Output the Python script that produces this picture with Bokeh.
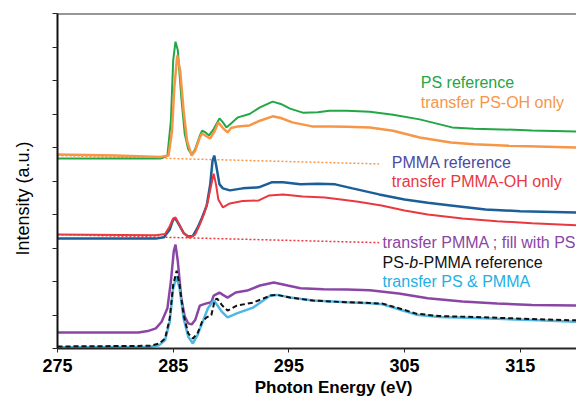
import math
from bokeh.plotting import figure
from bokeh.models import Range1d, FixedTicker, Span, Label
from bokeh.embed import file_html
from bokeh.resources import INLINE

# ---- data (photon energy eV, intensity a.u.) ----
ps_ref_e = [275, 283.9, 284.5, 284.8, 285.0, 285.2, 285.4, 285.7, 286.0, 286.3, 286.6, 286.9, 287.3, 287.5, 287.8, 288.1, 288.5, 289.0, 289.3, 289.6, 290.0, 290.6, 291.6, 292.5, 293.6, 294.3, 295.1, 296.2, 297.5, 298.5, 300, 302, 304, 306.3, 309.1, 311, 313.4, 316, 319.9]
ps_ref_i = [5.67, 5.67, 5.75, 6.8, 8.6, 9.16, 8.9, 7.5, 6.4, 5.95, 5.79, 5.95, 6.35, 6.5, 6.45, 6.36, 6.55, 6.87, 6.75, 6.6, 6.72, 6.9, 7.0, 7.2, 7.37, 7.3, 7.16, 7.04, 7.05, 7.1, 7.1, 7.07, 6.98, 6.84, 6.6, 6.56, 6.54, 6.51, 6.48]

psoh_e = [275, 280, 283.9, 284.6, 284.9, 285.1, 285.35, 285.6, 285.9, 286.2, 286.6, 286.9, 287.3, 287.5, 287.8, 288.2, 288.6, 288.9, 289.3, 289.7, 290.0, 290.6, 291.6, 292.5, 293.6, 294.3, 295.3, 297, 298.5, 300, 302, 304, 306.3, 309, 311, 314, 319.9]
psoh_i = [5.79, 5.76, 5.72, 5.76, 6.5, 7.8, 8.75, 8.3, 7.1, 6.2, 5.76, 5.9, 6.3, 6.42, 6.35, 6.27, 6.5, 6.75, 6.58, 6.45, 6.58, 6.63, 6.66, 6.8, 6.93, 6.88, 6.75, 6.63, 6.63, 6.62, 6.6, 6.5, 6.3, 6.15, 6.1, 6.05, 6.0]
psoh_base_e = [275, 302.8]
psoh_base_i = [5.76, 5.51]

pmma_ref_e = [275, 283.5, 284.2, 284.7, 285.0, 285.2, 285.5, 285.9, 286.3, 286.7, 287.1, 287.5, 287.9, 288.2, 288.4, 288.55, 288.75, 289.0, 289.3, 289.9, 291.0, 292.4, 293.5, 294.5, 296, 297.5, 299, 300.5, 302.8, 305, 307, 309, 312, 315, 319.9]
pmma_ref_i = [3.28, 3.28, 3.32, 3.55, 3.85, 3.88, 3.7, 3.45, 3.34, 3.36, 3.6, 3.91, 4.27, 4.9, 5.6, 5.76, 5.4, 4.9, 4.78, 4.72, 4.78, 4.81, 4.96, 4.96, 4.9, 4.92, 4.9, 4.78, 4.6, 4.45, 4.35, 4.27, 4.15, 4.1, 4.06]

pmmaoh_e = [275, 283.5, 284.3, 284.7, 285.0, 285.2, 285.5, 285.9, 286.4, 286.9, 287.3, 287.7, 288.0, 288.3, 288.5, 288.7, 288.9, 289.3, 289.9, 291.0, 292.4, 293.3, 294.5, 296.2, 298.1, 299.5, 301, 303, 305, 307, 310, 313, 316, 319.9]
pmmaoh_i = [3.40, 3.38, 3.42, 3.65, 3.88, 3.91, 3.72, 3.45, 3.31, 3.4, 3.7, 4.05, 4.4, 4.9, 5.22, 4.9, 4.45, 4.21, 4.33, 4.4, 4.42, 4.57, 4.6, 4.54, 4.51, 4.45, 4.38, 4.27, 4.12, 4.0, 3.88, 3.8, 3.74, 3.68]
pmmaoh_base_e = [275, 302.8]
pmmaoh_base_i = [3.40, 3.16]

fill_e = [275, 282, 282.8, 283.5, 284.0, 284.5, 284.8, 285.05, 285.2, 285.4, 285.7, 286.0, 286.3, 286.6, 286.9, 287.3, 287.8, 288.3, 288.5, 289.0, 289.3, 289.7, 290.4, 291.4, 292.5, 293.7, 294.9, 296, 298, 300, 302, 304.5, 307, 310, 313, 316, 319.9]
fill_i = [0.48, 0.48, 0.52, 0.6, 0.8, 1.2, 2.0, 2.9, 3.1, 2.6, 1.5, 0.95, 0.75, 0.72, 0.85, 1.28, 1.34, 1.38, 1.58, 1.67, 1.6, 1.52, 1.67, 1.73, 1.88, 1.97, 1.88, 1.8, 1.77, 1.76, 1.74, 1.64, 1.5, 1.4, 1.34, 1.3, 1.28]

bcp_ref_e = [275, 283, 283.8, 284.3, 284.7, 285.0, 285.3, 285.55, 285.9, 286.3, 286.7, 287.1, 287.5, 287.9, 288.3, 288.6, 288.8, 289.2, 289.7, 290.5, 291.9, 293.4, 294.0, 295.1, 297.1, 300, 302, 303.1, 305, 306, 308, 311.9, 316, 319.9]
bcp_ref_i = [0.06, 0.08, 0.15, 0.3, 0.9, 1.9, 2.32, 1.9, 1.0, 0.45, 0.3, 0.45, 0.8, 0.93, 1.0, 1.45, 1.49, 1.3, 1.13, 1.28, 1.37, 1.58, 1.6, 1.52, 1.43, 1.38, 1.36, 1.34, 1.15, 1.04, 0.97, 0.93, 0.88, 0.84]

both_e = [275, 283, 283.8, 284.3, 284.7, 285.0, 285.3, 285.55, 285.9, 286.3, 286.7, 287.1, 287.6, 288.0, 288.5, 288.8, 289.2, 289.7, 290.5, 291.9, 293.4, 294.0, 295.1, 297.1, 300, 302, 303.1, 305, 306, 308, 311.9, 316, 319.9]
both_i = [0.04, 0.05, 0.1, 0.25, 0.8, 1.8, 2.15, 1.8, 0.9, 0.35, 0.15, 0.4, 0.84, 1.2, 1.43, 1.3, 1.1, 0.93, 1.05, 1.22, 1.58, 1.6, 1.52, 1.43, 1.38, 1.35, 1.32, 1.12, 1.01, 0.94, 0.9, 0.85, 0.8]

x_ticks = [275, 285, 295, 305, 315]
y_ticks = [0, 1, 2, 3, 4, 5, 6, 7, 8, 9, 10]

GREEN = "#23a645"
ORANGE = "#f79646"
BLUE = "#1b5e98"
RED = "#e9383f"
PURPLE = "#8a45a5"
BLACK = "#111111"
LBLUE = "#4cb8e6"

FONT = "Liberation Sans"
NB = "\u00a0"

p = figure(width=576, height=400, output_backend="svg", toolbar_location=None,
           x_range=Range1d(275, 319.86), y_range=Range1d(0, 10),
           min_border_left=57, min_border_right=0, min_border_top=13, min_border_bottom=52)
p.grid.visible = False
p.outline_line_color = None
p.background_fill_color = "white"

# axes
p.xaxis.ticker = FixedTicker(ticks=x_ticks)
p.xaxis.minor_tick_line_color = None
p.xaxis.major_tick_out = 4
p.xaxis.major_tick_in = 0
p.xaxis.major_tick_line_color = "#262626"
p.xaxis.axis_line_color = "#262626"
p.xaxis.axis_line_width = 2
p.xaxis.major_label_text_font = FONT
p.xaxis.major_label_text_font_style = "bold"
p.xaxis.major_label_text_font_size = "18px"
p.xaxis.major_label_text_color = "black"
p.xaxis.major_label_standoff = 6
p.xaxis.axis_label = NB * 7 + "Photon Energy (eV)"
p.xaxis.axis_label_text_font = FONT
p.xaxis.axis_label_text_font_size = "17px"
p.xaxis.axis_label_text_font_style = "bold"
p.xaxis.axis_label_text_color = "black"
p.xaxis.axis_label_standoff = 3

p.yaxis.ticker = FixedTicker(ticks=y_ticks)
p.yaxis.minor_tick_line_color = None
p.yaxis.major_tick_out = 5
p.yaxis.major_tick_in = 0
p.yaxis.major_tick_line_color = "#262626"
p.yaxis.axis_line_color = "#111111"
p.yaxis.axis_line_width = 2
p.yaxis.major_label_overrides = {t: "" for t in y_ticks}
p.yaxis.major_label_standoff = 0
p.yaxis.axis_label = "Intensity (a.u.)" + NB * 7
p.yaxis.axis_label_text_font = FONT
p.yaxis.axis_label_text_font_size = "18px"
p.yaxis.axis_label_text_font_style = "normal"
p.yaxis.axis_label_text_color = "black"
p.yaxis.axis_label_standoff = 20

p.add_layout(Span(location=10, dimension="width", line_color="#303030", line_width=2))

# curves
p.line(psoh_base_e, psoh_base_i, line_color=ORANGE, line_width=1.5, line_dash="2 2")
p.line(pmmaoh_base_e, pmmaoh_base_i, line_color=RED, line_width=1.5, line_dash="2 2")
p.line(ps_ref_e, ps_ref_i, line_color=GREEN, line_width=2)
p.line(psoh_e, psoh_i, line_color=ORANGE, line_width=2.5)
p.line(pmma_ref_e, pmma_ref_i, line_color=BLUE, line_width=2.5)
p.line(pmmaoh_e, pmmaoh_i, line_color=RED, line_width=2)
p.line(fill_e, fill_i, line_color=PURPLE, line_width=2.5)
p.line(both_e, both_i, line_color=LBLUE, line_width=2.5)
p.line(bcp_ref_e, bcp_ref_i, line_color=BLACK, line_width=2, line_dash="5 3")

def lab(x, y, t, c, style="normal", xo=0):
    p.add_layout(Label(x=x, y=y, text=t, text_color=c, text_font=FONT, text_font_size="16px",
                       text_font_style=style, text_baseline="middle", text_align="left", x_offset=xo))

lab(306.4, 7.94, "PS reference", GREEN)
lab(306.4, 7.34, "transfer PS-OH only", ORANGE)
lab(303.9, 5.55, "PMMA reference", "#4b4ba3")
lab(303.9, 4.99, "transfer PMMA-OH only", RED)
lab(303.1, 3.16, "transfer PMMA ; fill with PS", PURPLE)
lab(303.1, 2.57, "PS-", BLACK)
lab(303.1, 2.57, "b", BLACK, "italic", 26.7)
lab(303.1, 2.57, "-PMMA reference", BLACK, "normal", 35.6)
lab(303.1, 1.99, "transfer PS & PMMA", "#1fb0e3")

open("out.html", "w").write(file_html(p, INLINE))
